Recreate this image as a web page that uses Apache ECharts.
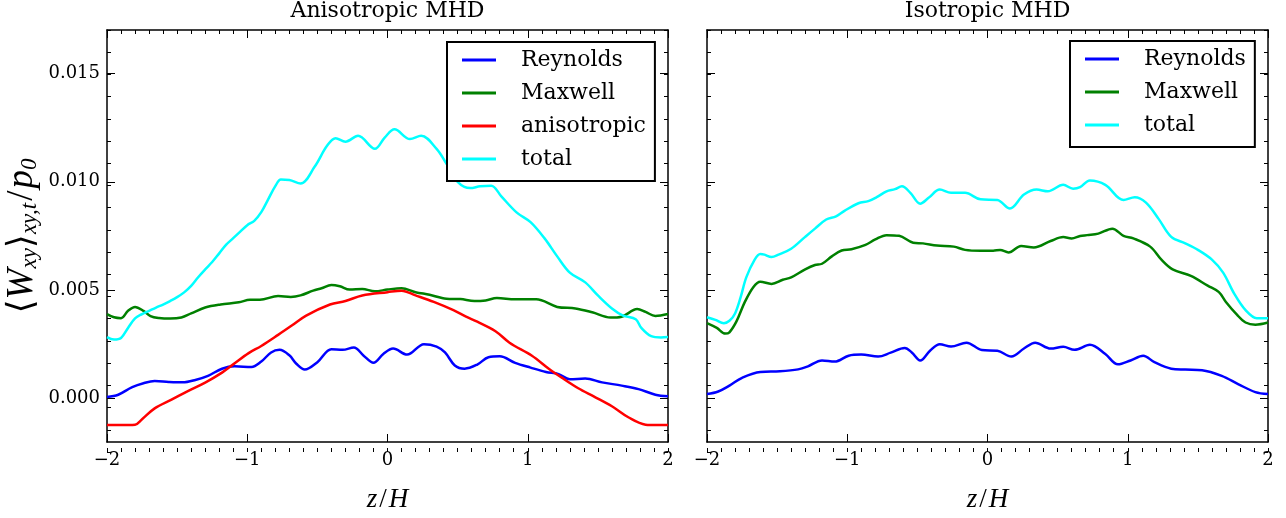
<!DOCTYPE html>
<html>
<head>
<meta charset="utf-8">
<script src="https://cdn.jsdelivr.net/npm/echarts@6/dist/echarts.min.js"></script>
<style>
  html, body { margin: 0; padding: 0; background: #fff; }
  #chart { width: 1286px; height: 518px; }
</style>
</head>
<body>
<div id="chart"></div>
<script>
// Stress profiles <W_xy>_{xy,t}/p0 versus height z/H, values in units of 1e-3.
// Each entry is [z/H, stress].

// Anisotropic MHD run
const anisoReynolds = [[-2,0.08],[-1.92,0.18],[-1.82,0.53],[-1.74,0.71],[-1.66,0.81],[-1.56,0.77],[-1.46,0.75],[-1.37,0.86],[-1.28,1.05],[-1.18,1.38],[-1.09,1.49],[-0.97,1.46],[-0.9,1.71],[-0.83,2.13],[-0.77,2.25],[-0.7,2.0],[-0.65,1.61],[-0.59,1.34],[-0.5,1.68],[-0.4,2.28],[-0.32,2.25],[-0.24,2.36],[-0.17,1.98],[-0.1,1.65],[-0.03,2.06],[0.04,2.31],[0.14,2.03],[0.26,2.51],[0.35,2.4],[0.41,2.13],[0.48,1.53],[0.55,1.38],[0.64,1.57],[0.72,1.91],[0.8,1.95],[0.91,1.65],[1.02,1.43],[1.13,1.23],[1.22,1.13],[1.3,0.89],[1.41,0.93],[1.53,0.75],[1.67,0.6],[1.79,0.44],[1.91,0.18],[2.0,0.11]];
const anisoMaxwell = [[-2,3.9],[-1.95,3.75],[-1.9,3.71],[-1.85,4.05],[-1.8,4.23],[-1.74,4.05],[-1.69,3.81],[-1.63,3.72],[-1.55,3.69],[-1.47,3.74],[-1.4,3.93],[-1.3,4.2],[-1.19,4.34],[-1.06,4.44],[-0.98,4.56],[-0.91,4.56],[-0.78,4.73],[-0.69,4.69],[-0.62,4.76],[-0.53,4.98],[-0.47,5.09],[-0.4,5.24],[-0.34,5.18],[-0.27,5.03],[-0.18,5.06],[-0.09,4.95],[0.0,5.03],[0.1,5.09],[0.2,4.91],[0.3,4.79],[0.42,4.61],[0.52,4.59],[0.62,4.5],[0.7,4.53],[0.78,4.64],[0.91,4.58],[1.06,4.58],[1.21,4.23],[1.34,4.16],[1.46,3.98],[1.59,3.74],[1.67,3.78],[1.78,4.13],[1.84,4.0],[1.91,3.81],[2.0,3.9]];
const anisoAnisotropic = [[-2,-1.22],[-1.9,-1.22],[-1.8,-1.2],[-1.75,-0.95],[-1.66,-0.45],[-1.54,-0.05],[-1.42,0.36],[-1.3,0.74],[-1.18,1.2],[-1.1,1.58],[-0.99,2.1],[-0.9,2.43],[-0.78,2.94],[-0.68,3.38],[-0.58,3.83],[-0.41,4.34],[-0.3,4.5],[-0.18,4.76],[0.0,4.91],[0.1,4.98],[0.2,4.76],[0.33,4.46],[0.47,4.08],[0.56,3.78],[0.64,3.55],[0.77,3.11],[0.87,2.58],[1.03,1.98],[1.15,1.38],[1.24,0.98],[1.36,0.48],[1.47,0.1],[1.6,-0.35],[1.72,-0.87],[1.84,-1.2],[1.92,-1.22],[2.0,-1.22]];
const anisoTotal = [[-2,2.84],[-1.95,2.73],[-1.9,2.8],[-1.85,3.26],[-1.8,3.7],[-1.75,3.9],[-1.7,4.05],[-1.65,4.2],[-1.6,4.34],[-1.55,4.5],[-1.5,4.68],[-1.45,4.9],[-1.4,5.2],[-1.35,5.6],[-1.3,5.96],[-1.25,6.3],[-1.2,6.7],[-1.15,7.1],[-1.1,7.4],[-1.05,7.7],[-1.0,8.0],[-0.95,8.2],[-0.9,8.6],[-0.85,9.2],[-0.8,9.8],[-0.76,10.1],[-0.7,10.08],[-0.62,9.92],[-0.52,10.69],[-0.43,11.67],[-0.37,12.01],[-0.3,11.85],[-0.21,12.12],[-0.09,11.52],[-0.02,12.04],[0.05,12.42],[0.16,11.97],[0.24,12.12],[0.35,11.52],[0.42,10.84],[0.5,10.0],[0.59,9.71],[0.66,9.79],[0.74,9.82],[0.81,9.34],[0.92,8.59],[1.02,8.14],[1.12,7.39],[1.21,6.56],[1.3,5.81],[1.41,5.36],[1.5,4.76],[1.6,4.16],[1.68,3.83],[1.77,3.66],[1.81,3.26],[1.88,2.88],[1.95,2.82],[2.0,2.84]];

// Isotropic MHD run
const isoReynolds = [[-2,0.21],[-1.92,0.33],[-1.84,0.6],[-1.75,0.96],[-1.62,1.23],[-1.48,1.26],[-1.35,1.35],[-1.28,1.49],[-1.18,1.76],[-1.09,1.71],[-0.99,1.98],[-0.9,2.03],[-0.78,1.94],[-0.69,2.12],[-0.59,2.33],[-0.54,2.13],[-0.48,1.76],[-0.41,2.21],[-0.34,2.51],[-0.26,2.4],[-0.15,2.58],[-0.04,2.24],[0.07,2.21],[0.17,1.94],[0.26,2.31],[0.34,2.58],[0.45,2.31],[0.54,2.39],[0.62,2.25],[0.73,2.48],[0.84,2.06],[0.93,1.58],[1.02,1.76],[1.11,1.98],[1.19,1.68],[1.31,1.38],[1.41,1.34],[1.53,1.31],[1.67,1.05],[1.79,0.66],[1.91,0.3],[2.0,0.21]];
const isoMaxwell = [[-2,3.48],[-1.93,3.26],[-1.87,3.0],[-1.84,3.06],[-1.79,3.56],[-1.73,4.46],[-1.67,5.14],[-1.62,5.39],[-1.54,5.29],[-1.46,5.48],[-1.4,5.59],[-1.3,5.96],[-1.23,6.16],[-1.18,6.22],[-1.11,6.56],[-1.04,6.83],[-0.97,6.89],[-0.87,7.09],[-0.8,7.34],[-0.72,7.54],[-0.63,7.51],[-0.53,7.19],[-0.46,7.16],[-0.36,7.06],[-0.24,7.01],[-0.16,6.86],[-0.05,6.82],[0.04,6.82],[0.09,6.86],[0.15,6.74],[0.24,7.04],[0.33,6.97],[0.45,7.27],[0.54,7.45],[0.6,7.39],[0.66,7.5],[0.71,7.54],[0.79,7.61],[0.89,7.84],[0.97,7.51],[1.04,7.39],[1.16,7.01],[1.24,6.41],[1.32,5.96],[1.45,5.66],[1.57,5.21],[1.65,4.91],[1.7,4.46],[1.78,3.86],[1.84,3.51],[1.91,3.41],[2.0,3.51]];
const isoTotal = [[-2,3.75],[-1.94,3.63],[-1.88,3.48],[-1.84,3.59],[-1.8,3.93],[-1.76,4.68],[-1.72,5.59],[-1.66,6.41],[-1.62,6.67],[-1.59,6.64],[-1.54,6.53],[-1.49,6.64],[-1.4,6.91],[-1.3,7.46],[-1.23,7.84],[-1.15,8.26],[-1.08,8.41],[-1.02,8.66],[-0.92,9.01],[-0.85,9.11],[-0.79,9.29],[-0.72,9.56],[-0.66,9.66],[-0.61,9.79],[-0.55,9.49],[-0.48,8.99],[-0.42,9.26],[-0.34,9.64],[-0.26,9.49],[-0.16,9.49],[-0.05,9.19],[0.07,9.16],[0.16,8.77],[0.26,9.41],[0.35,9.64],[0.43,9.56],[0.54,9.86],[0.61,9.68],[0.66,9.75],[0.73,10.06],[0.84,9.86],[0.97,9.16],[1.05,9.29],[1.13,9.04],[1.22,8.29],[1.31,7.46],[1.41,7.16],[1.5,6.86],[1.6,6.41],[1.68,5.81],[1.76,4.83],[1.84,4.08],[1.92,3.71],[2.0,3.71]];

// Axis ranges and labelled ticks
const zRange = [-2, 2];
const zMajorStep = 1;
const zMinorStep = 0.1;
const stressRange = [-2, 17];            // units of 1e-3
const stressMinorStep = 1;
const stressMajorTicks = [0, 5, 10, 15]; // units of 1e-3
const panelTitles = ['Anisotropic MHD', 'Isotropic MHD'];

const COLORS = { Reynolds: '#0000ff', Maxwell: '#008000', anisotropic: '#ff0000', total: '#00ffff' };
const SERIF = "'DejaVu Serif', serif";
const MATH = "'Liberation Serif', 'DejaVu Serif', serif";

const panelRect = [
  { left: 107, top: 30, width: 561, height: 422 },
  { left: 707, top: 30, width: 561, height: 422 }
];
// grids 0,1 hold the data and the major ticks; grids 2,3 overlay them with the minor ticks
const grids = [panelRect[0], panelRect[1], panelRect[0], panelRect[1]];

const frameLine = { show: true, onZero: false, lineStyle: { color: '#000', width: 1.5 } };
const noLine = { show: false, onZero: false };
const tickLine = { color: '#000', width: 1 };
const fmtZ = v => (v < 0 ? '\u2212' + Math.abs(v) : String(v));
const fmtStress = v => (v / 1000).toFixed(3);

const zName = {
  name: '{i|z}{s|/}{i|H}',
  nameLocation: 'middle', nameGap: 44,
  nameTextStyle: {
    rich: {
      i: { fontFamily: MATH, fontStyle: 'italic', fontSize: 27, color: '#000' },
      s: { fontFamily: MATH, fontSize: 27, color: '#000', padding: [0, 2, 0, 2] }
    }
  }
};

const stressName = {
  name: '{a|\u27E8}{i|W}{s|xy}{a|\u27E9}{s|xy,t}{n|/}{i|p}{s|0}',
  nameLocation: 'middle', nameRotate: 90, nameGap: 66,
  nameTextStyle: {
    rich: {
      a: { fontFamily: SERIF, fontSize: 36, color: '#000' },
      i: { fontFamily: MATH, fontStyle: 'italic', fontSize: 37, color: '#000' },
      n: { fontFamily: MATH, fontSize: 37, color: '#000', padding: [0, 2, 0, 2] },
      s: { fontFamily: MATH, fontStyle: 'italic', fontSize: 23, color: '#000', verticalAlign: 'bottom', padding: [14, 0, 0, 0] }
    }
  }
};

function xMajor(gridIndex, position) {
  const ax = {
    type: 'value', gridIndex, position, min: zRange[0], max: zRange[1], interval: zMajorStep,
    splitLine: { show: false },
    axisLine: frameLine,
    axisTick: { show: true, inside: true, length: 8, lineStyle: tickLine },
    axisLabel: { show: false }
  };
  if (position === 'bottom') {
    ax.axisLabel = { show: true, formatter: fmtZ, color: '#000', fontFamily: SERIF, fontSize: 18, margin: 9 };
    Object.assign(ax, zName);
  }
  return ax;
}

function xMinor(gridIndex, position) {
  return {
    type: 'value', gridIndex, position, min: zRange[0], max: zRange[1], interval: zMinorStep,
    splitLine: { show: false },
    axisLine: noLine,
    axisTick: { show: true, inside: true, length: 4, lineStyle: tickLine },
    axisLabel: { show: false }
  };
}

function yMajor(gridIndex, position, withLabels) {
  const ax = {
    type: 'value', gridIndex, position, min: stressRange[0], max: stressRange[1], interval: stressMinorStep,
    splitLine: { show: false },
    axisLine: frameLine,
    axisTick: { show: true, inside: true, length: 8, customValues: stressMajorTicks, lineStyle: tickLine },
    axisLabel: { show: false }
  };
  if (withLabels) {
    ax.axisLabel = { show: true, customValues: stressMajorTicks, formatter: fmtStress, color: '#000', fontFamily: SERIF, fontSize: 18, margin: 7 };
    Object.assign(ax, stressName);
  }
  return ax;
}

function yMinor(gridIndex, position) {
  return {
    type: 'value', gridIndex, position, min: stressRange[0], max: stressRange[1], interval: stressMinorStep,
    splitLine: { show: false },
    axisLine: noLine,
    axisTick: { show: true, inside: true, length: 4, lineStyle: tickLine },
    axisLabel: { show: false }
  };
}

function line(name, data, axisIndex) {
  return {
    name, type: 'line', data, xAxisIndex: axisIndex, yAxisIndex: axisIndex,
    symbol: 'none', showSymbol: false, smooth: 0.35, clip: true,
    lineStyle: { color: COLORS[name], width: 2.5 },
    itemStyle: { color: COLORS[name] },
    z: 3
  };
}

const legendBase = {
  orient: 'vertical',
  icon: 'rect',
  itemWidth: 34, itemHeight: 3, itemGap: 9,
  padding: [6, 9, 10, 15],
  borderColor: '#000', borderWidth: 2, borderRadius: 0,
  backgroundColor: '#fff',
  selectedMode: false,
  itemStyle: { borderWidth: 0 },
  lineStyle: { width: 0 },
  textStyle: { fontFamily: SERIF, fontSize: 22, color: '#000', lineHeight: 24, padding: [0, 0, 0, 20] },
  z: 10
};

const titleStyle = { fontFamily: SERIF, fontSize: 22, fontWeight: 'normal', color: '#000' };

const option = {
  animation: false,
  backgroundColor: '#fff',
  title: [
    { text: panelTitles[0], left: 387.5, textAlign: 'center', top: 0, padding: 0, textStyle: titleStyle },
    { text: panelTitles[1], left: 987.5, textAlign: 'center', top: 0, padding: 0, textStyle: titleStyle }
  ],
  grid: grids,
  xAxis: [
    xMajor(0, 'bottom'), xMajor(0, 'top'),   // 0,1
    xMajor(1, 'bottom'), xMajor(1, 'top'),   // 2,3
    xMinor(2, 'bottom'), xMinor(2, 'top'),   // 4,5
    xMinor(3, 'bottom'), xMinor(3, 'top')    // 6,7
  ],
  yAxis: [
    yMajor(0, 'left', true), yMajor(0, 'right', false),
    yMajor(1, 'left', false), yMajor(1, 'right', false),
    yMinor(2, 'left'), yMinor(2, 'right'),
    yMinor(3, 'left'), yMinor(3, 'right')
  ],
  legend: [
    Object.assign({}, legendBase, { left: 447, top: 42, data: ['Reynolds', 'Maxwell', 'anisotropic', 'total'] }),
    Object.assign({}, legendBase, { left: 1070, top: 41, data: ['Reynolds', 'Maxwell', 'total'] })
  ],
  series: [
    line('Reynolds', anisoReynolds, 0),
    line('Maxwell', anisoMaxwell, 0),
    line('anisotropic', anisoAnisotropic, 0),
    line('total', anisoTotal, 0),
    line('Reynolds', isoReynolds, 2),
    line('Maxwell', isoMaxwell, 2),
    line('total', isoTotal, 2)
  ]
};

const chart = echarts.init(document.getElementById('chart'), null, { renderer: 'canvas' });
chart.setOption(option);
</script>
</body>
</html>
